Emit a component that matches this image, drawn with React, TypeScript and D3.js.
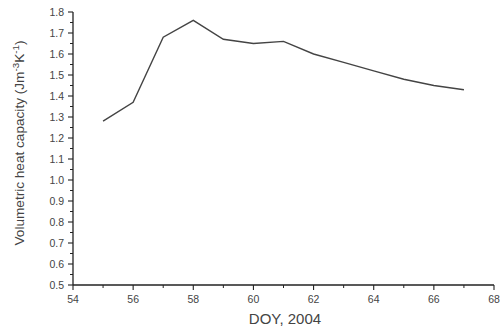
import React from "react";
import * as d3 from "d3";

const days = [55, 56, 57, 58, 59, 60, 61, 62, 63, 64, 65, 66, 67];
const heatCapacity = [1.28, 1.37, 1.68, 1.76, 1.67, 1.65, 1.66, 1.6, 1.56, 1.52, 1.48, 1.45, 1.43];
const xTicks = [54, 56, 58, 60, 62, 64, 66, 68];
const yTicks = [0.5, 0.6, 0.7, 0.8, 0.9, 1.0, 1.1, 1.2, 1.3, 1.4, 1.5, 1.6, 1.7, 1.8];

const W = 501, H = 328;
const left = 73, right = 494, top = 12, bottom = 285;

export default function App() {
  const x = d3.scaleLinear().domain([54, 68]).range([left, right]);
  const y = d3.scaleLinear().domain([0.5, 1.8]).range([bottom, top]);
  const line = d3.line<number>().x((_, i) => x(days[i])).y((d) => y(d));
  const xMinor = d3.range(55, 68, 2);
  const yMinor = d3.range(0, 13).map((i) => 0.55 + i * 0.1);
  const font = "'Liberation Sans', Arial, sans-serif";
  return (
    <svg width={W} height={H} style={{ position: "absolute", left: 0, top: 0, background: "#fff" }} fontFamily={font}>
      <rect width={W} height={H} fill="#fff" />
      <path d={line(heatCapacity) || ""} fill="none" stroke="#444" strokeWidth={1.4} />
      <line x1={left} x2={left} y1={top} y2={bottom} stroke="#222" strokeWidth={1.3} />
      <line x1={left} x2={right} y1={bottom} y2={bottom} stroke="#222" strokeWidth={1.3} />
      {yTicks.map((t) => (
        <g key={"y" + t}>
          <line x1={left - 5} x2={left} y1={y(t)} y2={y(t)} stroke="#222" strokeWidth={1.1} />
          <text x={left - 9} y={y(t) + 3.5} fontSize={10.5} textAnchor="end" fill="#444">{t.toFixed(1)}</text>
        </g>
      ))}
      {yMinor.map((t) => (
        <line key={"ym" + t} x1={left - 3} x2={left} y1={y(t)} y2={y(t)} stroke="#222" strokeWidth={1} />
      ))}
      {xTicks.map((t) => (
        <g key={"x" + t}>
          <line x1={x(t)} x2={x(t)} y1={bottom} y2={bottom + 5} stroke="#222" strokeWidth={1.1} />
          <text x={x(t)} y={bottom + 18} fontSize={10.5} textAnchor="middle" fill="#444">{t}</text>
        </g>
      ))}
      {xMinor.map((t) => (
        <line key={"xm" + t} x1={x(t)} x2={x(t)} y1={bottom} y2={bottom + 3} stroke="#222" strokeWidth={1} />
      ))}
      <text x={285} y={324} fontSize={15} textAnchor="middle" fill="#444">DOY, 2004</text>
      <text transform={`translate(24, 143) rotate(-90)`} fontSize={12.5} textAnchor="middle" fill="#444" textLength={205} lengthAdjust="spacingAndGlyphs">
        Volumetric heat capacity (Jm<tspan dy={-5} fontSize={9}>-3</tspan><tspan dy={5}>K</tspan><tspan dy={-5} fontSize={9}>-1</tspan><tspan dy={5}>)</tspan>
      </text>
    </svg>
  );
}
